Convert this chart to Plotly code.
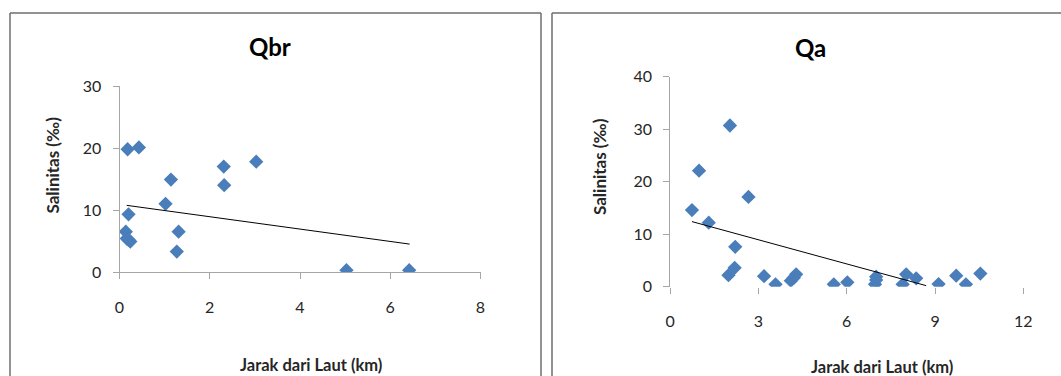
import plotly.graph_objects as go

W, H = 1061, 376

# ---- data: Qbr panel ----
qbr_jarak = [0.18, 0.43, 3.03, 2.31, 2.32, 1.14, 1.02, 0.20, 0.14, 0.16, 0.24, 0.20, 1.31, 1.27, 5.03, 6.42]
qbr_salinitas = [19.8, 20.1, 17.8, 17.0, 14.0, 14.9, 11.0, 9.3, 6.5, 5.4, 4.9, 5.2, 6.5, 3.3, 0.3, 0.3]
qbr_trend_x = [0.16, 6.43]
qbr_trend_y = [10.75, 4.5]

# ---- data: Qa panel ----
qa_jarak = [0.74, 0.98, 1.31, 2.03, 2.66, 2.21, 2.19, 1.98, 3.19, 3.58, 4.10, 4.20, 4.28,
            5.56, 6.02, 6.96, 7.00, 7.00, 7.90, 8.02, 8.36, 9.12, 9.72, 10.05, 10.54]
qa_salinitas = [14.6, 22.1, 12.2, 30.7, 17.1, 7.6, 3.6, 2.2, 2.0, 0.45, 1.15, 1.7, 2.35,
                0.45, 0.83, 0.45, 1.9, 1.3, 0.45, 2.35, 1.6, 0.5, 2.1, 0.45, 2.5]
qa_trend_x = [0.74, 8.70]
qa_trend_y = [12.4, 0.2]

qbr_xticks = [0, 2, 4, 6, 8]
qbr_yticks = [0, 10, 20, 30]
qa_xticks = [0, 3, 6, 9, 12]
qa_yticks = [0, 10, 20, 30, 40]

titles = ["Qbr", "Qa"]
x_title = "Jarak dari Laut (km)"
y_title = "Salinitas (‰)"

MARKER = "#4a7ebb"
FONT = "Lato, Open Sans, sans-serif"


def px(x):
    return x / W


def py(y):
    return 1 - y / H


fig = go.Figure()

fig.add_trace(go.Scatter(x=qbr_jarak, y=qbr_salinitas, mode="markers",
                         marker=dict(symbol="diamond", size=11, color=MARKER),
                         xaxis="x", yaxis="y", showlegend=False))
fig.add_trace(go.Scatter(x=qbr_trend_x, y=qbr_trend_y, mode="lines",
                         line=dict(color="black", width=1),
                         xaxis="x", yaxis="y", showlegend=False))
fig.add_trace(go.Scatter(x=qa_jarak, y=qa_salinitas, mode="markers",
                         marker=dict(symbol="diamond", size=11, color=MARKER),
                         xaxis="x2", yaxis="y2", showlegend=False))
fig.add_trace(go.Scatter(x=qa_trend_x, y=qa_trend_y, mode="lines",
                         line=dict(color="black", width=1),
                         xaxis="x2", yaxis="y2", showlegend=False))

tickfont = dict(family=FONT, size=16, color="#262626")
axis_common = dict(showgrid=False, zeroline=False, ticks="outside", ticklen=6,
                   tickcolor="#a6a6a6", linecolor="#a6a6a6", linewidth=1,
                   tickfont=tickfont, fixedrange=True, automargin=False)

fig.update_layout(
    width=W, height=H, autosize=False,
    margin=dict(l=0, r=0, t=0, b=0, pad=0, autoexpand=False),
    paper_bgcolor="white", plot_bgcolor="rgba(0,0,0,0)",
    xaxis=dict(domain=[px(119.5), px(480.5)], range=[0, 8], tickvals=qbr_xticks,
               showline=True, anchor="y", ticklabelstandoff=15, **axis_common),
    yaxis=dict(domain=[py(272), py(86)], range=[0, 30], tickvals=qbr_yticks,
               showline=True, anchor="x", ticklabelstandoff=8, **axis_common),
    xaxis2=dict(domain=[px(670.2), px(1023.3)], range=[0, 12], tickvals=qa_xticks,
                showline=False, anchor="y2", ticklabelstandoff=14, **axis_common),
    yaxis2=dict(domain=[py(286.7), py(76.7)], range=[0, 40], tickvals=qa_yticks,
                showline=True, anchor="x2", ticklabelstandoff=8, **axis_common),
)

# titles and axis titles
ann = []
for t, (cx, cy) in zip(titles, [(270, 46), (810, 47)]):
    ann.append(dict(text=f"<b>{t}</b>", x=px(cx), y=py(cy), xref="paper", yref="paper",
                    showarrow=False, xanchor="center", yanchor="middle",
                    font=dict(family=FONT, size=24, color="black")))
for cx, cy in [(311, 365), (882, 367)]:
    ann.append(dict(text=f"<b>{x_title}</b>", x=px(cx), y=py(cy), xref="paper", yref="paper",
                    showarrow=False, xanchor="center", yanchor="middle",
                    font=dict(family=FONT, size=16.5, color="#262626")))
for cx, cy in [(51.5, 165), (599, 167)]:
    ann.append(dict(text=f"<b>{y_title}</b>", x=px(cx), y=py(cy), xref="paper", yref="paper",
                    showarrow=False, xanchor="center", yanchor="middle", textangle=-90,
                    font=dict(family=FONT, size=17, color="#262626")))
fig.update_layout(annotations=ann)

# chart frames
frame = dict(color="#6e6e6e", width=1.5)
shapes = [
    dict(type="line", xref="paper", yref="paper", x0=px(10), x1=px(10), y0=py(13), y1=py(376), line=frame),
    dict(type="line", xref="paper", yref="paper", x0=px(10), x1=px(541), y0=py(13), y1=py(13), line=frame),
    dict(type="line", xref="paper", yref="paper", x0=px(541), x1=px(541), y0=py(13), y1=py(376), line=frame),
    dict(type="line", xref="paper", yref="paper", x0=px(552), x1=px(552), y0=py(13), y1=py(376), line=frame),
    dict(type="line", xref="paper", yref="paper", x0=px(552), x1=px(1061), y0=py(13), y1=py(13), line=frame),
]
fig.update_layout(shapes=shapes)

fig.write_html("out.html", config={"displayModeBar": False, "responsive": False},
               default_width="1061px", default_height="376px")

# remove default page margins so the figure fills the window exactly
with open("out.html", "r", encoding="utf-8") as f:
    html = f.read()
html = html.replace("<head>", "<head><style>html,body{margin:0;padding:0;overflow:hidden;}</style>", 1)
with open("out.html", "w", encoding="utf-8") as f:
    f.write(html)
